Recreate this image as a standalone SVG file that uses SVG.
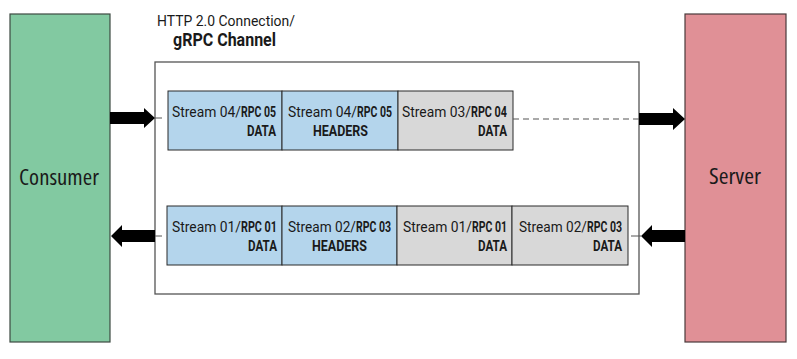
<svg xmlns="http://www.w3.org/2000/svg" width="797" height="359" viewBox="0 0 797 359">
<defs>
<style>
text{font-family:Roboto,"Liberation Sans",Arial,sans-serif;fill:#1a1a1a}
.big{font-family:"Open Sans","Liberation Sans",Arial,sans-serif;font-stretch:condensed;font-size:21px}
.cell{font-size:14px}
.b{font-weight:bold}
.e{text-anchor:end}
.blue{fill:#b4d5ec;stroke:#2a2a2a;stroke-width:1}
.gray{fill:#d8d8d8;stroke:#2a2a2a;stroke-width:1}
.arrow{fill:#000}
.tick{stroke:#555;stroke-width:1}
</style>
</defs>
<rect width="797" height="359" fill="#fff"/>

<g id="consumer">
<rect x="10" y="14" width="100" height="328" fill="#82c9a1" stroke="#3d4a42" stroke-width="1.2"/>
<text class="big" x="19" y="185" textLength="80" lengthAdjust="spacingAndGlyphs" fill="#10281a">Consumer</text>
</g>

<g id="server">
<rect x="685" y="14" width="101" height="328" fill="#e09096" stroke="#4a3a3b" stroke-width="1.2"/>
<text class="big" x="709" y="184" textLength="52" lengthAdjust="spacingAndGlyphs" fill="#2a1416">Server</text>
</g>

<g id="channel">
<rect x="155" y="62" width="484" height="232" fill="#fff" stroke="#555" stroke-width="1.3"/>
<text><tspan x="157" y="26" font-size="14.5" textLength="138" lengthAdjust="spacingAndGlyphs">HTTP 2.0 Connection/</tspan><tspan x="173" y="46" font-size="17.5" class="b" textLength="103" lengthAdjust="spacingAndGlyphs">gRPC Channel</tspan></text>
</g>

<g id="top-row">
<g id="t1">
<rect class="blue" x="168" y="91" width="114" height="59"/>
<text class="cell"><tspan class="e" x="241" y="117" textLength="69" lengthAdjust="spacingAndGlyphs">Stream 04/</tspan><tspan class="b" x="241" y="117" textLength="35" lengthAdjust="spacingAndGlyphs">RPC 05</tspan><tspan class="b" x="247" y="136" textLength="29" lengthAdjust="spacingAndGlyphs">DATA</tspan></text>
</g>
<g id="t2">
<rect class="blue" x="282" y="91" width="116" height="59"/>
<text class="cell"><tspan class="e" x="357" y="117" textLength="69" lengthAdjust="spacingAndGlyphs">Stream 04/</tspan><tspan class="b" x="357" y="117" textLength="35" lengthAdjust="spacingAndGlyphs">RPC 05</tspan><tspan class="b" x="313" y="136" textLength="55" lengthAdjust="spacingAndGlyphs">HEADERS</tspan></text>
</g>
<g id="t3">
<rect class="gray" x="398" y="91" width="115" height="59"/>
<text class="cell"><tspan class="e" x="471" y="117" textLength="69" lengthAdjust="spacingAndGlyphs">Stream 03/</tspan><tspan class="b" x="471" y="117" textLength="36" lengthAdjust="spacingAndGlyphs">RPC 04</tspan><tspan class="b" x="478" y="136" textLength="29" lengthAdjust="spacingAndGlyphs">DATA</tspan></text>
</g>
</g>

<g id="bottom-row">
<g id="b1">
<rect class="blue" x="167" y="206" width="115" height="59"/>
<text class="cell"><tspan class="e" x="241" y="232" textLength="69" lengthAdjust="spacingAndGlyphs">Stream 01/</tspan><tspan class="b" x="241" y="232" textLength="36" lengthAdjust="spacingAndGlyphs">RPC 01</tspan><tspan class="b" x="248" y="251" textLength="29" lengthAdjust="spacingAndGlyphs">DATA</tspan></text>
</g>
<g id="b2">
<rect class="blue" x="282" y="206" width="115" height="59"/>
<text class="cell"><tspan class="e" x="356" y="232" textLength="68" lengthAdjust="spacingAndGlyphs">Stream 02/</tspan><tspan class="b" x="356" y="232" textLength="35" lengthAdjust="spacingAndGlyphs">RPC 03</tspan><tspan class="b" x="312" y="251" textLength="55" lengthAdjust="spacingAndGlyphs">HEADERS</tspan></text>
</g>
<g id="b3">
<rect class="gray" x="397" y="206" width="115" height="59"/>
<text class="cell"><tspan class="e" x="472" y="232" textLength="69" lengthAdjust="spacingAndGlyphs">Stream 01/</tspan><tspan class="b" x="472" y="232" textLength="35" lengthAdjust="spacingAndGlyphs">RPC 01</tspan><tspan class="b" x="478" y="251" textLength="29" lengthAdjust="spacingAndGlyphs">DATA</tspan></text>
</g>
<g id="b4">
<rect class="gray" x="512" y="206" width="116" height="59"/>
<text class="cell"><tspan class="e" x="587" y="232" textLength="68" lengthAdjust="spacingAndGlyphs">Stream 02/</tspan><tspan class="b" x="587" y="232" textLength="35" lengthAdjust="spacingAndGlyphs">RPC 03</tspan><tspan class="b" x="593" y="251" textLength="29" lengthAdjust="spacingAndGlyphs">DATA</tspan></text>
</g>
</g>

<g id="connectors">
<polygon class="arrow" points="110,112 144,112 144,108 155,118 144,128 144,124 110,124"/>
<line class="tick" x1="155" y1="118" x2="162" y2="118"/>
<line x1="513" y1="119" x2="639" y2="119" stroke="#555" stroke-width="1.2" stroke-dasharray="6,4"/>
<polygon class="arrow" points="639,113 673,113 673,108 685,119 673,130 673,125 639,125"/>
<polygon class="arrow" points="155,230 122,230 122,225 111,236 122,247 122,242 155,242"/>
<line class="tick" x1="155" y1="236" x2="162" y2="236"/>
<polygon class="arrow" points="685,230 652,230 652,225 641,236 652,247 652,242 685,242"/>
<line class="tick" x1="631" y1="236" x2="641" y2="236"/>
</g>
</svg>
